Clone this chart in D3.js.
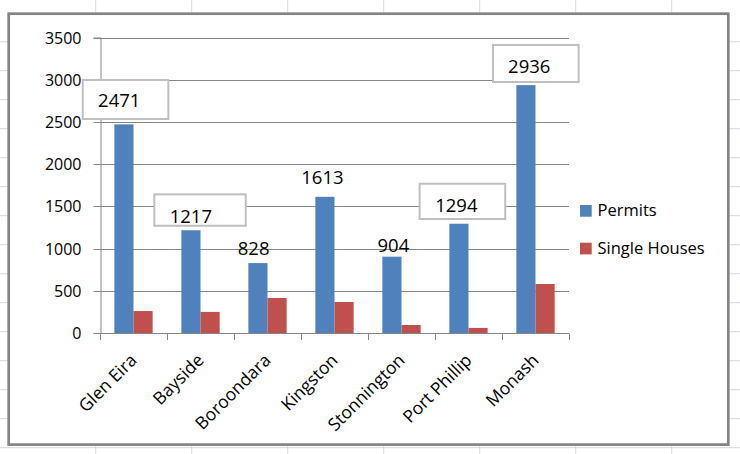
<!DOCTYPE html>
<html>
<head>
<meta charset="utf-8">
<script src="https://cdn.jsdelivr.net/npm/d3@7"></script>
<style>
  html, body { margin: 0; padding: 0; background: #fff; }
  svg { display: block; font-family: "Open Sans", "Liberation Sans", sans-serif; }
</style>
</head>
<body>
<svg id="chart" width="740" height="454"></svg>
<script>
// ---- data ----
const categories = ["Glen Eira", "Bayside", "Boroondara", "Kingston", "Stonnington", "Port Phillip", "Monash"];
const permits = [2471, 1217, 828, 1613, 904, 1294, 2936];
const singleHouses = [260, 250, 415, 367, 95, 60, 580];
const seriesNames = ["Permits", "Single Houses"];
const yTicks = [0, 500, 1000, 1500, 2000, 2500, 3000, 3500];

// ---- layout / style (not data) ----
const colors = ["#4f81bd", "#c0504d"];
// manual label placement relative to top-centre of each Permits bar (Excel-style hand-placed labels)
const labelLayout = [
  { dx: -4.7, dy: -17.1, box: [-41.2, -44.4, 44.4, -5.4] },
  { dx: -0.1, dy: -6.9, box: [-36.6, -35.9, 54.8, -4.5] },
  { dx: -4.3, dy: -8.1, box: null },
  { dx: -2.5, dy: -12.5, box: null },
  { dx: 1.5, dy: -5.0, box: null },
  { dx: -2.6, dy: -11.75, box: [-39.3, -40, 46.3, -4.75] },
  { dx: 3.3, dy: -12.4, box: [-32.9, -40.1, 52.7, -3.1] }
];

const svg = d3.select("#chart");
const W = 740, H = 454;

// spreadsheet background grid
const bg = svg.append("g");
d3.range(95.7, W, 96).forEach(x => bg.append("line").attr("x1", x).attr("x2", x).attr("y1", 0).attr("y2", H)
  .attr("stroke", "#d0d7e5").attr("stroke-width", 1));
d3.range(41.7, H, 29).forEach(y => bg.append("line").attr("x1", 0).attr("x2", W).attr("y1", y).attr("y2", y)
  .attr("stroke", "#d0d7e5").attr("stroke-width", 1));

// chart area
svg.append("rect").attr("x", 8.7).attr("y", 13.7).attr("width", 719.6).attr("height", 430.9)
  .attr("fill", "#fff").attr("stroke", "#848484").attr("stroke-width", 2.7);

const plot = { left: 100, right: 569, top: 37.5, bottom: 333 };
const x = d3.scaleBand().domain(categories).range([plot.left, plot.right]).paddingInner(0).paddingOuter(0);
// gap width 150% => each bar = band / 3.5
const barW = x.bandwidth() / 3.5;
const xs = d3.scaleBand().domain(seriesNames).range([0.75 * barW, 2.75 * barW]).padding(0);
const y = d3.scaleLinear().domain([0, 3500]).range([plot.bottom, plot.top]);

// gridlines
const grid = svg.append("g");
grid.selectAll("line").data(yTicks.filter(d => d > 0)).join("line")
  .attr("x1", plot.left).attr("x2", plot.right)
  .attr("y1", d => Math.round(y(d)) + 0.5).attr("y2", d => Math.round(y(d)) + 0.5)
  .attr("stroke", "#868686").attr("stroke-width", 1);

// y axis
const yAxis = d3.axisLeft(y).tickValues(yTicks).tickSize(7).tickPadding(12).tickFormat(d3.format("d"));
const gy = svg.append("g").attr("transform", `translate(${plot.left + 0.5},0)`).call(yAxis);
gy.select(".domain").attr("stroke", "#868686");
gy.selectAll(".tick line").attr("stroke", "#868686");
gy.selectAll(".tick text").attr("font-size", 16).attr("fill", "#000").attr("font-family", "Open Sans, sans-serif");
gy.selectAll(".tick").attr("transform", d => `translate(0,${Math.round(y(d)) + 0.5})`);

// bars
const series = [permits, singleHouses];
const barsG = svg.append("g");
series.forEach((vals, si) => {
  barsG.selectAll(null).data(vals).join("rect")
    .attr("x", (d, i) => x(categories[i]) + xs(seriesNames[si]))
    .attr("width", xs.bandwidth())
    .attr("y", d => y(d))
    .attr("height", d => y(0) - y(d))
    .attr("fill", colors[si]);
});

// x axis
const gx = svg.append("g").attr("transform", `translate(0,${plot.bottom + 0.5})`);
gx.append("line").attr("x1", plot.left).attr("x2", plot.right).attr("stroke", "#868686");
const tickXs = categories.map(c => x(c)).concat([plot.right]);
gx.selectAll("line.tk").data(tickXs).join("line").attr("class", "tk")
  .attr("x1", d => Math.round(d) + 0.5).attr("x2", d => Math.round(d) + 0.5)
  .attr("y1", 0).attr("y2", 6.5).attr("stroke", "#868686");
svg.append("g").selectAll("text").data(categories).join("text")
  .attr("transform", d => `translate(${x(d) + x.bandwidth() / 2},357) rotate(-45)`)
  .attr("text-anchor", "end").attr("dy", "0.35em")
  .attr("font-size", 17.5).attr("fill", "#000")
  .text(d => d);

// data labels
const lab = svg.append("g");
permits.forEach((v, i) => {
  const cx = x(categories[i]) + xs("Permits") + xs.bandwidth() / 2;
  const ty = y(v);
  const L = labelLayout[i];
  if (L.box) {
    lab.append("rect")
      .attr("x", cx + L.box[0]).attr("y", ty + L.box[1])
      .attr("width", L.box[2] - L.box[0]).attr("height", L.box[3] - L.box[1])
      .attr("fill", "#fff").attr("stroke", "#bfbfbf").attr("stroke-width", 2);
  }
  lab.append("text").attr("x", cx + L.dx).attr("y", ty + L.dy)
    .attr("text-anchor", "middle").attr("font-size", 18.5).attr("fill", "#000")
    .text(d3.format("d")(v));
});

// legend
const lg = svg.append("g");
seriesNames.forEach((name, i) => {
  const yy = 205 + i * 37.7;
  lg.append("rect").attr("x", 580).attr("y", yy).attr("width", 11.7).attr("height", 11.7).attr("fill", colors[i]);
  lg.append("text").attr("x", 597.5).attr("y", yy + 11.3).attr("font-size", 16.5).attr("fill", "#000").text(name);
});
</script>
</body>
</html>
